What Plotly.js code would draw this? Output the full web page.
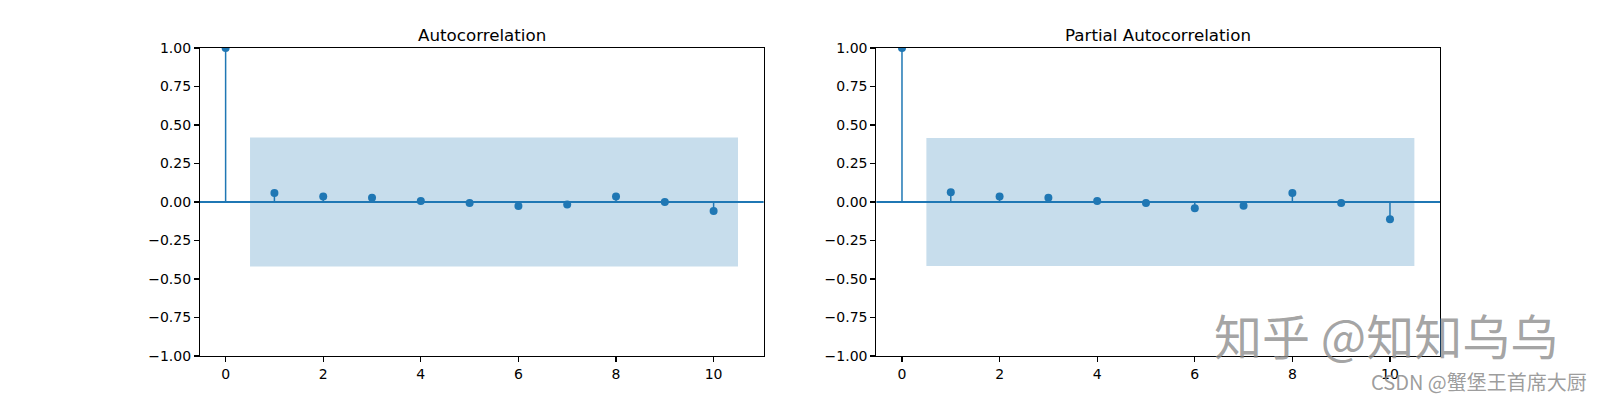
<!DOCTYPE html>
<html>
<head>
<meta charset="utf-8">
<script src="https://cdn.plot.ly/plotly-3.0.1.min.js"></script>
<style>html,body{margin:0;padding:0;background:#fff;}#chart{width:1600px;height:400px;}</style>
</head>
<body>
<div id="chart"></div>
<script>
// ---- data ----
const lags = [0, 1, 2, 3, 4, 5, 6, 7, 8, 9, 10];
const acfValues = [1.0, 0.059, 0.035, 0.028, 0.007, -0.007, -0.026, -0.017, 0.035, 0.0, -0.059];
const pacfValues = [1.0, 0.064, 0.035, 0.028, 0.007, -0.007, -0.040, -0.025, 0.058, -0.007, -0.112];
const acfConf = 0.419;   // half-width of confidence band (ACF)
const pacfConf = 0.416;  // half-width of confidence band (PACF)
const titles = ["Autocorrelation", "Partial Autocorrelation"];
const xTickVals = [0, 2, 4, 6, 8, 10];
const xTickText = ["0", "2", "4", "6", "8", "10"];
const yTickVals = [-1, -0.75, -0.5, -0.25, 0, 0.25, 0.5, 0.75, 1];
const yTickText = ["\u22121.00", "\u22120.75", "\u22120.50", "\u22120.25", "0.00", "0.25", "0.50", "0.75", "1.00"];
const watermark1 = "知乎 @知知乌乌";
const watermark2 = "CSDN @蟹堡王首席大厨";

// ---- styling ----
const C0 = "#1f77b4";
const FONT = "DejaVu Sans, sans-serif";

function bandTraces(values, conf, xa, ya) {
  const bx = lags.slice(1).map(v => v);
  bx[0] = bx[0] - 0.5;
  bx[bx.length - 1] = bx[bx.length - 1] + 0.5;
  const upper = bx.map(() => conf);
  const lower = bx.map(() => -conf);
  return [
    {x: bx, y: lower, xaxis: xa, yaxis: ya, mode: "lines", line: {width: 0, color: "rgba(0,0,0,0)"}, hoverinfo: "skip", showlegend: false},
    {x: bx, y: upper, xaxis: xa, yaxis: ya, mode: "lines", line: {width: 0, color: "rgba(0,0,0,0)"}, fill: "tonexty", fillcolor: "rgba(31,119,180,0.25)", hoverinfo: "skip", showlegend: false}
  ];
}
function stemTraces(values, xa, ya) {
  const sx = [], sy = [];
  lags.forEach((l, i) => { sx.push(l, l, null); sy.push(0, values[i], null); });
  return [
    {x: sx, y: sy, xaxis: xa, yaxis: ya, mode: "lines", line: {color: C0, width: 1.5}, hoverinfo: "skip", showlegend: false},
    {x: lags, y: values, xaxis: xa, yaxis: ya, mode: "markers", marker: {color: C0, size: 8}, showlegend: false}
  ];
}

const data = [].concat(
  bandTraces(acfValues, acfConf, "x", "y"),
  stemTraces(acfValues, "x", "y"),
  bandTraces(pacfValues, pacfConf, "x2", "y2"),
  stemTraces(pacfValues, "x2", "y2")
);

function xaxisDef(domain, anchor) {
  return {
    domain: domain, anchor: anchor, range: [-0.525, 11.025],
    tickvals: xTickVals, ticktext: xTickText,
    showgrid: false, zeroline: false, showline: true, mirror: true,
    linecolor: "#000", linewidth: 1.1, ticks: "outside", ticklen: 5, tickwidth: 1.1, tickcolor: "#000",
    tickfont: {family: FONT, size: 14, color: "#000"}, fixedrange: true
  };
}
function yaxisDef(anchor) {
  return {
    domain: [0.11, 0.88], anchor: anchor, range: [-1, 1],
    tickvals: yTickVals, ticktext: yTickText,
    showgrid: false, zeroline: false, showline: true, mirror: true,
    linecolor: "#000", linewidth: 1.1, ticks: "outside", ticklen: 5, tickwidth: 1.1, tickcolor: "#000",
    tickfont: {family: FONT, size: 14, color: "#000"}, fixedrange: true
  };
}

const d1 = [0.125, 0.47727];
const d2 = [0.54773, 0.9];

const layout = {
  width: 1600, height: 400,
  margin: {l: 0, r: 0, t: 0, b: 0},
  paper_bgcolor: "#fff", plot_bgcolor: "#fff",
  showlegend: false,
  xaxis: xaxisDef(d1, "y"),
  yaxis: yaxisDef("x"),
  xaxis2: xaxisDef(d2, "y2"),
  yaxis2: yaxisDef("x2"),
  shapes: [
    {type: "line", xref: "x domain", yref: "y", x0: 0, x1: 1, y0: 0, y1: 0, line: {color: C0, width: 2}},
    {type: "line", xref: "x2 domain", yref: "y2", x0: 0, x1: 1, y0: 0, y1: 0, line: {color: C0, width: 2}}
  ],
  annotations: [
    {text: titles[0], xref: "paper", yref: "paper", x: (d1[0] + d1[1]) / 2, y: 0.88 + 1 / 400, xanchor: "center", yanchor: "bottom", showarrow: false, font: {family: FONT, size: 16.7, color: "#000"}},
    {text: titles[1], xref: "paper", yref: "paper", x: (d2[0] + d2[1]) / 2, y: 0.88 + 1 / 400, xanchor: "center", yanchor: "bottom", showarrow: false, font: {family: FONT, size: 16.7, color: "#000"}},
    {text: watermark1, xref: "paper", yref: "paper", x: 1212 / 1600, y: 1 - 334 / 400, xanchor: "left", yanchor: "middle", showarrow: false, font: {family: "Noto Sans CJK SC, sans-serif", size: 48, color: "rgba(140,140,140,0.8)"}},
    {text: watermark2, xref: "paper", yref: "paper", x: 1589 / 1600, y: 1 - 381 / 400, xanchor: "right", yanchor: "middle", showarrow: false, font: {family: "Noto Sans CJK SC, sans-serif", size: 20, color: "rgba(140,140,140,0.85)"}}
  ]
};

Plotly.newPlot("chart", data, layout, {displayModeBar: false, staticPlot: true});
</script>
</body>
</html>
